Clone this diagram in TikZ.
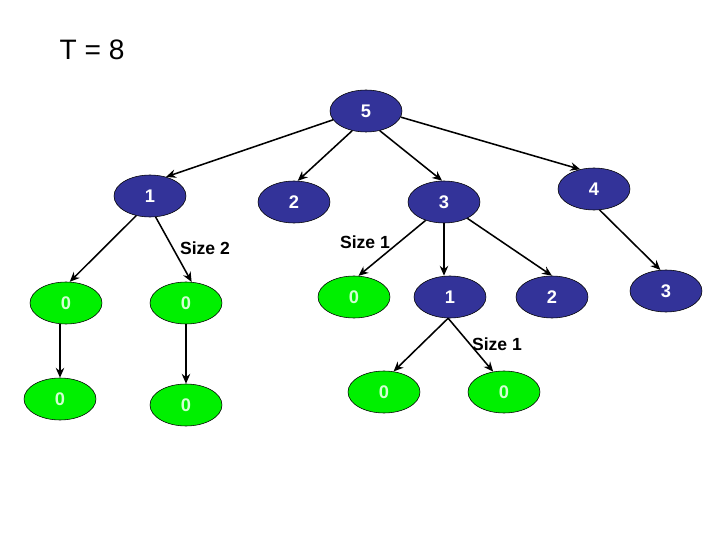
\documentclass[tikz,border=0pt]{standalone}
\usepackage{fontspec}
\setmainfont{Liberation Sans}
\usepackage{xcolor}
\usetikzlibrary{shapes.geometric, arrows.meta}
\definecolor{navy}{RGB}{51,51,153}
\definecolor{leaf}{RGB}{0,240,0}
\definecolor{leaftext}{RGB}{210,255,210}
\tikzstyle{inner}   = [ellipse, minimum width=1.8cm, minimum height=1.05cm,
                       inner sep=0pt, draw=black, fill=navy, text=white,
                       font=\fontsize{13}{15}\selectfont\bfseries]
\tikzstyle{leafnode}= [ellipse, minimum width=1.8cm, minimum height=1.05cm,
                       inner sep=0pt, draw=black, fill=leaf, text=leaftext,
                       font=\fontsize{13}{15}\selectfont\bfseries]
\tikzstyle{sizelbl} = [font=\fontsize{12.5}{14}\selectfont\bfseries]
\tikzstyle{arr}     = [-{Stealth[length=7pt,width=6pt]}, line width=1.1pt]

\begin{document}
\begin{tikzpicture}
  \useasboundingbox (0,0) rectangle (18,13.5);

  %% Title
  \node[font=\fontsize{20}{24}\selectfont] (title) at (2.3,12.25) {T = 8};

  %% Top levels
  \node[inner] (n5) at (9.15,10.725) {5};
  \node[inner] (n1) at (3.75,8.6)    {1};
  \node[inner] (n2) at (7.35,8.45)   {2};
  \node[inner] (n3) at (11.1,8.45)   {3};
  \node[inner] (n4) at (14.85,8.775) {4};

  \draw[arr] (n5.195) -- (n1.50);
  \draw[arr] (n5.235) -- (n2.80);
  \draw[arr] (n5.-55) -- (n3.95);
  \draw[arr] (n5.-10) -- (n4.125);

  %% Subtree of 1 (size 2)
  \node[leafnode] (a1) at (1.65,5.925) {0};
  \node[leafnode] (b1) at (4.65,5.925) {0};
  \node[leafnode] (a2) at (1.5,3.525)  {0};
  \node[leafnode] (b2) at (4.65,3.375) {0};

  \draw[arr] (n1.235) -- (a1.80);
  \draw[arr] (n1.-75) -- (b1.75);
  \draw[arr] (a2.north |- a1.south) -- (a2.north);
  \draw[arr] (b1.south) -- (b2.north);

  %% Subtree of 3
  \node[leafnode] (c1) at (8.85,6.075) {0};
  \node[inner]    (d1) at (11.25,6.075) {1};
  \node[inner]    (e1) at (13.8,6.075)  {2};

  \draw[arr] (n3.225) -- (c1.78);
  \draw[arr] (n3.south) -- (n3.south |- d1.north);
  \draw[arr] (n3.-35) -- (e1.north);

  \node[leafnode] (g1) at (9.6,3.7)  {0};
  \node[leafnode] (h1) at (12.6,3.7) {0};

  \draw[arr] (d1.265) -- (g1.65);
  \draw[arr] (d1.265) -- (h1.118);

  %% Subtree of 4
  \node[inner] (f1) at (16.65,6.225) {3};
  \draw[arr] (n4.-75) -- (f1.105);

  %% Size labels
  \node[sizelbl] (s2)  at (5.125,7.3)  {Size 2};
  \node[sizelbl] (s1a) at (9.125,7.45) {Size 1};
  \node[sizelbl] (s1b) at (12.425,4.9) {Size 1};

\end{tikzpicture}
\end{document}
